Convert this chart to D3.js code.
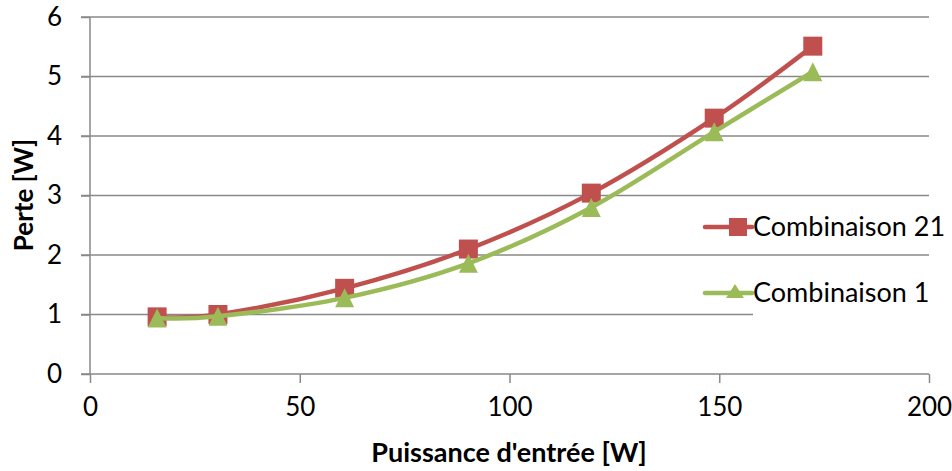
<!DOCTYPE html>
<html><head><meta charset="utf-8">
<script src="https://cdn.jsdelivr.net/npm/d3@7"></script>
<style>
html,body{margin:0;padding:0;background:#fff;}
svg{display:block;font-family:Lato,"Open Sans",sans-serif;}
</style></head>
<body><svg id="c" width="952" height="471"></svg>
<script>
const xValues = [16, 30.5, 60.7, 90.2, 119.5, 148.8, 172.3];
const combi21 = [0.96, 1.00, 1.44, 2.10, 3.04, 4.30, 5.51];
const combi1  = [0.94, 0.97, 1.28, 1.86, 2.80, 4.07, 5.08];
const seriesNames = ["Combinaison 21", "Combinaison 1"];
const seriesColors = ["#C0504D", "#9BBB59"];
const xTicks = [0, 50, 100, 150, 200];
const yTicks = [0, 1, 2, 3, 4, 5, 6];
const xTitle = "Puissance d'entrée [W]";
const yTitle = "Perte [W]";

const svg = d3.select("#c");
const x = d3.scaleLinear().domain([0, 200]).range([90, 929]);
const y = d3.scaleLinear().domain([0, 6]).range([374, 17]);
const gridColor = "#898989";

// gridlines
const grid = svg.append("g");
grid.selectAll("line").data(yTicks.filter(d => d > 0)).join("line")
  .attr("x1", x(0) - 9).attr("x2", x(200))
  .attr("y1", d => y(d)).attr("y2", d => y(d))
  .attr("stroke", gridColor).attr("stroke-width", 1.5);

// y axis
const yAxis = svg.append("g").attr("transform", `translate(${x(0)},0)`)
  .call(d3.axisLeft(y).tickValues(yTicks).tickSize(9).tickPadding(19).tickFormat(d3.format("d")));
yAxis.select(".domain").attr("stroke", gridColor).attr("stroke-width", 1.5).attr("d", `M0,${y(0)}V${y(6)}`);
yAxis.selectAll(".tick line").attr("stroke", gridColor).attr("stroke-width", 1.5);
yAxis.selectAll(".tick text").attr("font-size", 26).attr("fill", "#000").attr("font-family", "Lato");

// x axis
const xAxis = svg.append("g").attr("transform", `translate(0,${y(0)})`)
  .call(d3.axisBottom(x).tickValues(xTicks).tickSize(9).tickPadding(15).tickFormat(d3.format("d")));
xAxis.select(".domain").attr("stroke", gridColor).attr("stroke-width", 1.5).attr("d", `M${x(0)-9},0H${x(200)}`);
xAxis.selectAll(".tick line").attr("stroke", gridColor).attr("stroke-width", 1.5);
xAxis.selectAll(".tick text").attr("font-size", 26).attr("fill", "#000").attr("font-family", "Lato");

// legend background (covers part of gridline like the original)
const legX = 753, legY = 262;
svg.append("rect").attr("x", legX).attr("y", legY).attr("width", 190).attr("height", 70).attr("fill", "#fff");

// series
const series = [combi21, combi1];
const line = d3.line().x((d, i) => x(xValues[i])).y(d => y(d)).curve(d3.curveCatmullRom.alpha(0));
const ms = 19;
const triPath = `M0,${-ms/2}L${ms/2},${ms/2}L${-ms/2},${ms/2}Z`;
series.forEach((vals, si) => {
  const g = svg.append("g");
  g.append("path").attr("d", line(vals)).attr("fill", "none")
    .attr("stroke", seriesColors[si]).attr("stroke-width", 4.5).attr("stroke-linejoin", "round");
  if (si === 0) {
    g.selectAll("rect").data(vals).join("rect")
      .attr("x", (d, i) => x(xValues[i]) - ms/2).attr("y", d => y(d) - ms/2)
      .attr("width", ms).attr("height", ms).attr("fill", seriesColors[si]);
  } else {
    g.selectAll("path.m").data(vals).join("path").attr("class", "m")
      .attr("d", triPath)
      .attr("transform", (d, i) => `translate(${x(xValues[i])},${y(d)})`)
      .attr("fill", seriesColors[si]);
  }
});

// legend
const legRows = [227, 293];
seriesNames.forEach((name, i) => {
  const g = svg.append("g").attr("transform", `translate(0,${legRows[i]})`);
  g.append("line").attr("x1", 705).attr("x2", 752).attr("y1", 0).attr("y2", 0)
    .attr("stroke", seriesColors[i]).attr("stroke-width", 4.5).attr("stroke-linecap", "round");
  if (i === 0) {
    g.append("rect").attr("x", 738 - 9).attr("y", -9).attr("width", 18).attr("height", 18).attr("fill", seriesColors[i]);
  } else {
    g.append("path").attr("d", `M0,-8L9,6L-9,6Z`).attr("transform", "translate(735,-1)").attr("fill", seriesColors[i]);
  }
  g.append("text").attr("x", 753).attr("y", 0).attr("dy", "0.35em")
    .attr("font-size", 27).attr("font-family", "Lato").attr("fill", "#000").text(name);
});

// axis titles
svg.append("text").attr("x", 509).attr("y", 462).attr("text-anchor", "middle")
  .attr("font-size", 27).attr("font-weight", "bold").attr("font-family", "Lato").text(xTitle);
svg.append("text").attr("transform", `translate(33,195) rotate(-90)`).attr("text-anchor", "middle")
  .attr("font-size", 26).attr("font-weight", "bold").attr("font-family", "Lato").text(yTitle);
</script></body></html>
